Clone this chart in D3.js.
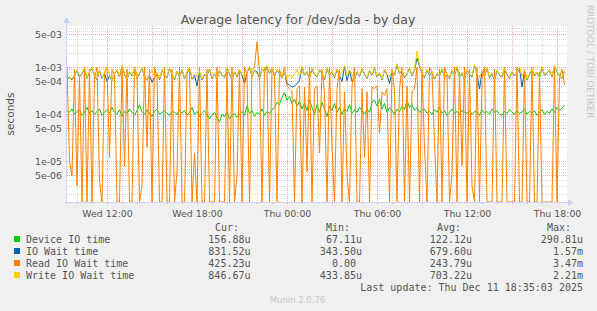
<!DOCTYPE html>
<html>
<head>
<meta charset="utf-8">
<script src="https://cdn.jsdelivr.net/npm/d3@7"></script>
<style>
  body { margin: 0; background: #f0f0f0; }
  svg { display: block; font-family: "DejaVu Sans", sans-serif; }
  .mono { font-family: "DejaVu Sans Mono", monospace; font-size: 10px; fill: #555; white-space: pre; }
</style>
</head>
<body>
<div id="chart"></div>
<script>
// chart values, microseconds, one sample every 10 minutes from Wed 09:20
var deviceIO = [120,110,130,100,115,125,95,110,140,105,120,100,115,130,95,110,125,105,140,110,
  100,125,90,115,105,130,110,95,120,160,110,100,125,105,90,115,130,100,110,120,
  105,95,115,110,100,125,105,120,95,110,140,100,115,90,105,120,100,80,95,110,
  85,68,100,90,110,80,95,105,85,100,115,95,150,105,120,90,110,100,130,95,
  115,105,125,140,180,160,230,290,200,240,170,210,150,190,130,170,120,200,140,100,
  160,110,180,130,90,150,120,170,110,140,100,130,115,160,105,125,110,140,120,100,
  130,110,180,200,150,210,130,170,110,140,120,100,130,115,150,125,200,140,160,120,
  140,110,120,130,105,115,100,125,110,140,105,120,95,110,130,105,115,100,120,110,
  105,120,100,115,110,95,125,105,115,100,130,110,120,100,95,115,105,125,110,100,
  120,105,110,130,100,115,105,120,95,110,125,100,115,105,130,110,140,120,135,157];

var ioWait = [560,600,540,680,860,620,740,940,580,800,960,680,540,850,600,740,500,660,510,720,
  880,620,1050,700,540,800,660,920,580,740,960,620,530,680,480,600,760,540,880,680,
  600,950,700,540,820,640,880,580,740,960,560,680,400,800,540,700,660,920,580,740,
  560,840,680,600,960,720,540,800,620,880,680,450,760,1000,640,860,800,580,920,800,
  1050,740,960,660,880,720,600,780,450,420,380,400,450,520,1000,680,800,580,940,700,
  620,880,740,540,960,680,800,600,900,660,500,1050,520,850,500,560,800,640,920,720,
  580,840,680,960,620,760,540,880,700,450,800,680,1150,740,860,600,720,960,660,880,
  1570,1060,740,600,880,680,800,560,740,660,900,620,700,580,860,680,1000,600,760,540,
  880,700,620,1100,740,344,820,660,960,600,740,540,860,680,620,920,700,580,800,660,
  740,960,380,860,540,700,900,660,780,600,1000,680,740,880,620,1050,800,660,580,832];

var readIO = [1000,10,5,900,3,700,0,1000,0,900,0,600,1000,4,0,800,1000,12,900,700,
  0,0,1000,8,900,0,0,1000,700,0,3,1000,20,900,0,1000,600,0,0,1000,
  0,0,900,0,6,1000,0,0,800,1000,0,15,0,1000,0,0,900,0,0,0,
  1000,0,0,0,800,0,1000,0,5,900,0,1000,700,0,900,1000,3470,800,0,1000,
  900,0,1000,700,0,900,600,1000,400,350,300,0,350,400,0,380,6,1000,0,350,
  400,15,900,300,0,1000,20,0,350,900,0,300,5,0,400,1000,0,0,350,12,
  300,0,380,350,400,40,300,250,350,0,900,300,0,350,1000,0,400,0,300,350,
  1000,0,900,20,0,1000,800,25,0,900,0,1000,700,0,6,1000,0,800,8,1000,
  0,900,3,0,1000,0,600,1000,0,0,0,900,0,0,0,1000,0,0,0,0,
  1000,0,0,900,0,0,1000,0,0,800,0,0,0,0,0,1000,0,600,900,425];

var writeIO = [580,620,560,700,900,640,760,980,600,820,1000,700,560,880,620,760,1050,680,520,740,
  900,640,1100,720,560,820,680,950,600,760,1000,640,540,700,880,620,780,560,900,700,
  620,980,720,560,840,660,900,600,760,1000,580,700,640,820,560,720,680,940,600,760,
  580,860,700,620,1000,740,560,820,640,900,700,620,780,1050,660,880,720,600,940,820,
  1100,760,1000,680,900,740,620,800,560,700,600,720,900,640,1050,700,820,600,980,720,
  640,900,760,560,1000,700,820,620,940,680,760,1100,640,880,700,580,820,660,960,740,
  600,860,700,1000,640,780,560,900,720,640,820,700,1200,760,880,620,740,1000,680,900,
  2210,1100,760,620,900,700,820,580,760,680,940,640,720,600,880,700,1050,620,780,560,
  900,720,640,1150,760,600,840,680,1000,620,760,560,880,700,640,960,720,600,820,680,
  760,1000,640,880,560,720,940,680,800,620,1050,700,760,900,640,1100,820,680,600,847];

var seriesNames = ["Device IO time", "IO Wait time", "Read IO Wait time", "Write IO Wait time"];
var seriesColors = ["#00cc00", "#0066b3", "#ff8000", "#ffcc00"];
var curValues = ["156.88u", "831.52u", "425.23u", "846.67u"];
var minValues = ["67.11u", "343.50u", "0.00 ", "433.85u"];
var avgValues = ["122.12u", "679.60u", "243.79u", "703.22u"];
var maxValues = ["290.81u", "1.57m", "3.47m", "2.21m"];
var yTickValues = [5e-3, 1e-3, 5e-4, 1e-4, 5e-5, 1e-5, 5e-6];
var yTickLabels = ["5e-03", "1e-03", "5e-04", "1e-04", "5e-05", "1e-05", "5e-06"];

var svgWidth = 597;
var svgHeight = 311;
var plot = { left: 67, right: 567, top: 26, bottom: 202 };

var startTime = new Date(2025, 11, 10, 9, 20);
var endTime = new Date(2025, 11, 11, 18, 40);
var times = d3.range(deviceIO.length).map(i => d3.timeMinute.offset(startTime, 10 * i));

var svg = d3.select("#chart").append("svg")
  .attr("width", svgWidth)
  .attr("height", svgHeight);

var x = d3.scaleTime().domain([startTime, endTime]).range([plot.left, plot.right]);
var y = d3.scaleLog().domain([1.36e-6, 7.57e-3]).range([plot.bottom, plot.top]).clamp(true);

// plot background
svg.append("rect")
  .attr("x", plot.left).attr("y", plot.top)
  .attr("width", plot.right - plot.left).attr("height", plot.bottom - plot.top)
  .attr("fill", "#fff");

// grid
var grid = svg.append("g").attr("shape-rendering", "crispEdges");
var minorY = [];
[-6, -5, -4, -3, -2].forEach(function(e) {
  [2, 3, 4, 6, 7, 8, 9].forEach(function(m) { minorY.push(m * Math.pow(10, e)); });
});
minorY = minorY.filter(v => v > y.domain()[0] && v < y.domain()[1]);
grid.selectAll(".hminor").data(minorY).enter().append("line")
  .attr("x1", plot.left).attr("x2", plot.right)
  .attr("y1", d => Math.round(y(d)) + 0.5).attr("y2", d => Math.round(y(d)) + 0.5)
  .attr("stroke", "#d8d8d8").attr("stroke-dasharray", "1,1");

var hours = d3.timeHour.range(startTime, endTime);
grid.selectAll(".vminor").data(hours.filter(d => d.getHours() % 3 != 0)).enter().append("line")
  .attr("x1", d => Math.round(x(d)) + 0.5).attr("x2", d => Math.round(x(d)) + 0.5)
  .attr("y1", plot.top).attr("y2", plot.bottom)
  .attr("stroke", "#d8d8d8").attr("stroke-dasharray", "1,1");

grid.selectAll(".hmajor").data(yTickValues).enter().append("line")
  .attr("x1", plot.left).attr("x2", plot.right)
  .attr("y1", d => Math.round(y(d)) + 0.5).attr("y2", d => Math.round(y(d)) + 0.5)
  .attr("stroke", "#f0a8a8").attr("stroke-dasharray", "1,1");

grid.selectAll(".vmajor").data(hours.filter(d => d.getHours() % 3 == 0)).enter().append("line")
  .attr("x1", d => Math.round(x(d)) + 0.5).attr("x2", d => Math.round(x(d)) + 0.5)
  .attr("y1", plot.top).attr("y2", plot.bottom)
  .attr("stroke", "#f0a8a8").attr("stroke-dasharray", "1,1");

// series
svg.append("clipPath").attr("id", "clip").append("rect")
  .attr("x", plot.left).attr("y", plot.top)
  .attr("width", plot.right - plot.left).attr("height", plot.bottom - plot.top);

var line = d3.line()
  .x((d, i) => x(times[i]))
  .y(d => d > 0 ? y(d * 1e-6) : plot.bottom);

var lines = svg.append("g").attr("clip-path", "url(#clip)");
[deviceIO, ioWait, readIO, writeIO].forEach(function(series, k) {
  lines.append("path")
    .datum(series)
    .attr("d", line)
    .attr("fill", "none")
    .attr("stroke", seriesColors[k])
    .attr("stroke-width", 1);
});

// axes
var axisColor = "#ccd2f2";
var xAxis = d3.axisBottom(x)
  .tickValues(hours.filter(d => d.getHours() % 6 == 0))
  .tickFormat(d3.timeFormat("%a %H:%M"))
  .tickSize(0).tickPadding(8);
var gx = svg.append("g").attr("transform", `translate(0,${plot.bottom})`).call(xAxis);
gx.select(".domain").remove();
gx.selectAll("text").attr("fill", "#555").attr("font-size", "9.4px").attr("font-family", "DejaVu Sans");

var yAxis = d3.axisLeft(y)
  .tickValues(yTickValues)
  .tickFormat((d, i) => yTickLabels[i])
  .tickSize(0).tickPadding(5);
var gy = svg.append("g").attr("transform", `translate(${plot.left},0)`).call(yAxis);
gy.select(".domain").remove();
gy.selectAll("text").attr("fill", "#555").attr("font-size", "9.4px").attr("font-family", "DejaVu Sans");

// small ticks under the x axis
svg.append("g").attr("shape-rendering", "crispEdges")
  .selectAll("line").data(hours).enter().append("line")
  .attr("x1", d => Math.round(x(d)) + 0.5).attr("x2", d => Math.round(x(d)) + 0.5)
  .attr("y1", plot.bottom).attr("y2", plot.bottom + 2)
  .attr("stroke", d => d.getHours() % 3 == 0 ? "#f0a8a8" : "#bbb");

// axis lines with arrows
svg.append("line").attr("x1", plot.left - 1.5).attr("x2", plot.right + 2)
  .attr("y1", plot.bottom + 0.5).attr("y2", plot.bottom + 0.5).attr("stroke", axisColor);
svg.append("line").attr("x1", plot.left - 0.5).attr("x2", plot.left - 0.5)
  .attr("y1", plot.bottom + 2).attr("y2", plot.top - 4).attr("stroke", axisColor);
svg.append("path").attr("d", `M${plot.right + 1},${plot.bottom - 3} L${plot.right + 7},${plot.bottom + 0.5} L${plot.right + 1},${plot.bottom + 4} Z`)
  .attr("fill", axisColor);
svg.append("path").attr("d", `M${plot.left - 4},${plot.top - 3} L${plot.left - 0.5},${plot.top - 9} L${plot.left + 3},${plot.top - 3} Z`)
  .attr("fill", axisColor);

// titles
svg.append("text").attr("x", 298).attr("y", 24).attr("text-anchor", "middle")
  .attr("font-size", "12.5px").attr("fill", "#555")
  .text("Average latency for /dev/sda - by day");

svg.append("text").attr("transform", "translate(14,114) rotate(-90)")
  .attr("text-anchor", "middle").attr("font-size", "10.5px").attr("fill", "#555")
  .text("seconds");

svg.append("text").attr("transform", "translate(587,5) rotate(90)")
  .attr("font-size", "8.8px").attr("fill", "#c8c8c8")
  .text("RRDTOOL / TOBI OETIKER");

svg.append("text").attr("x", 297.5).attr("y", 303).attr("text-anchor", "middle")
  .attr("font-size", "8.5px").attr("fill", "#c8c8c8")
  .text("Munin 2.0.76");

// legend
var legend = svg.append("g");
var headers = [["Cur:", 215], ["Min:", 326], ["Avg:", 437], ["Max:", 547]];
headers.forEach(function(h) {
  legend.append("text").attr("class", "mono").attr("x", h[1]).attr("y", 231).text(h[0]);
});
var columns = [[curValues, 250.5], [minValues, 362], [avgValues, 472], [maxValues, 583]];
seriesNames.forEach(function(name, k) {
  var rowY = 243 + 12 * k;
  legend.append("rect").attr("x", 14).attr("y", rowY - 7).attr("width", 6).attr("height", 6)
    .attr("fill", seriesColors[k]);
  legend.append("text").attr("class", "mono").attr("x", 26).attr("y", rowY).text(name);
  columns.forEach(function(c) {
    legend.append("text").attr("class", "mono").attr("x", c[1]).attr("y", rowY)
      .attr("text-anchor", "end").text(c[0][k]);
  });
});
legend.append("text").attr("class", "mono").attr("x", 583).attr("y", 291)
  .attr("text-anchor", "end").text("Last update: Thu Dec 11 18:35:03 2025");
</script>
</body>
</html>
